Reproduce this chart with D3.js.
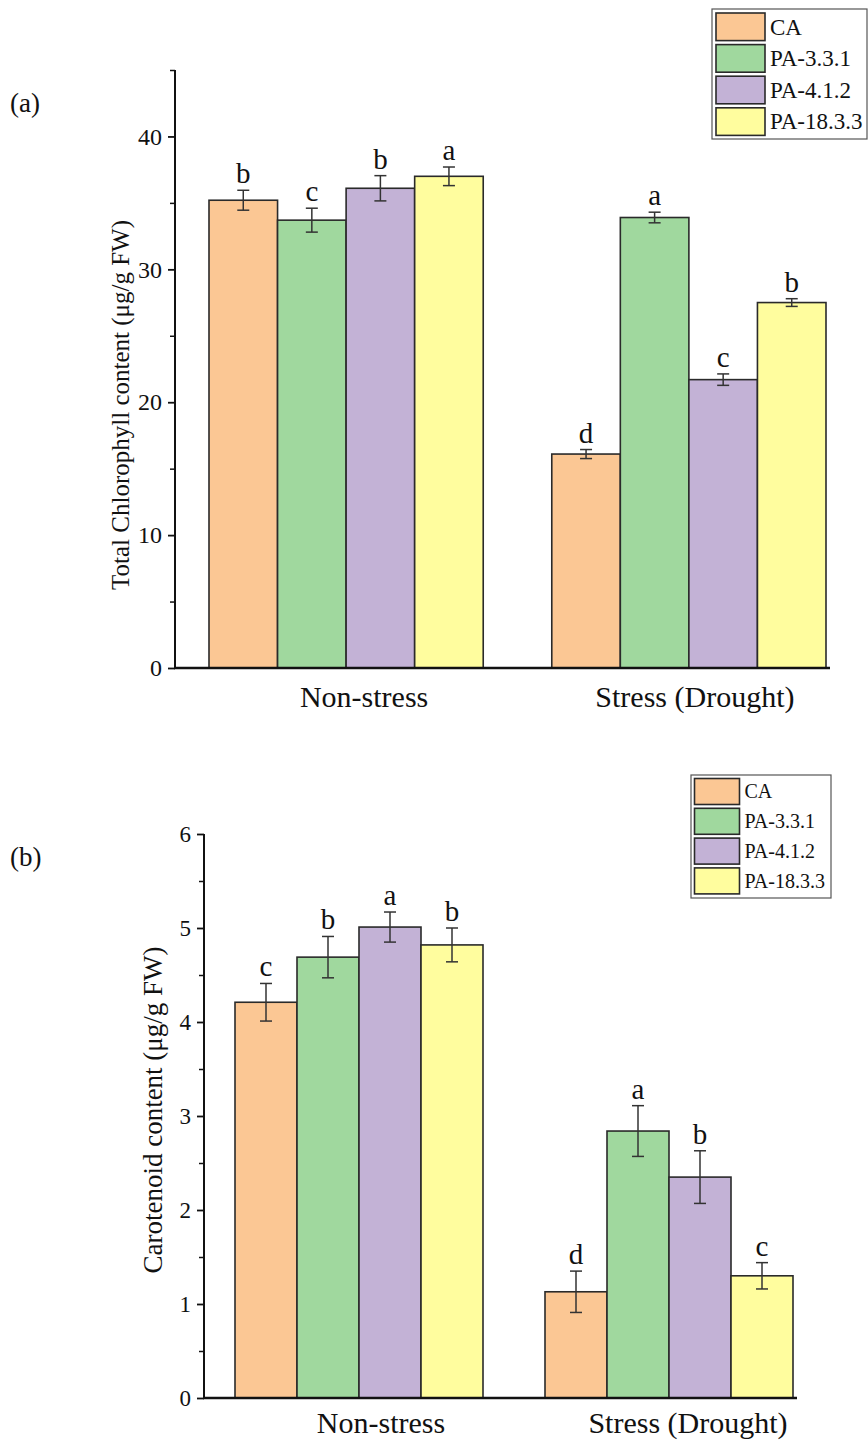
<!DOCTYPE html>
<html>
<head>
<meta charset="utf-8">
<script src="https://cdn.jsdelivr.net/npm/d3@7"></script>
<style>
  body { margin: 0; background: #fff; }
  svg text { font-family: "Liberation Serif", "Times New Roman", serif; fill: #111; }
</style>
</head>
<body>
<script>
// categories and series
var groups = ["Non-stress", "Stress (Drought)"];
var series = ["CA", "PA-3.3.1", "PA-4.1.2", "PA-18.3.3"];
var colors = ["#fbc794", "#a0d89e", "#c3b2d6", "#fffd9e"];

// (a) total chlorophyll, one array per series: [Non-stress, Stress]
var chlCA    = [35.2, 16.1];
var chlPA331 = [33.7, 33.9];
var chlPA412 = [36.1, 21.7];
var chlPA1833= [37.0, 27.5];
var chlErrCA    = [0.75, 0.34];
var chlErrPA331 = [0.90, 0.40];
var chlErrPA412 = [0.95, 0.43];
var chlErrPA1833= [0.70, 0.29];
var chlLetters  = [["b", "c", "b", "a"], ["d", "a", "c", "b"]];
var chlMajor = [0, 10, 20, 30, 40];
var chlMinor = [5, 15, 25, 35, 45];

// (b) carotenoid
var carCA    = [4.21, 1.13];
var carPA331 = [4.69, 2.84];
var carPA412 = [5.01, 2.35];
var carPA1833= [4.82, 1.30];
var carErrCA    = [0.20, 0.22];
var carErrPA331 = [0.22, 0.27];
var carErrPA412 = [0.16, 0.28];
var carErrPA1833= [0.18, 0.14];
var carLetters  = [["c", "b", "a", "b"], ["d", "a", "b", "c"]];
var carMajor = [0, 1, 2, 3, 4, 5, 6];
var carMinor = [0.5, 1.5, 2.5, 3.5, 4.5, 5.5];

var svg = d3.select("body").append("svg")
  .attr("width", 868)
  .attr("height", 1445);

function drawChart(c) {
  var g = svg.append("g");
  var y = d3.scaleLinear().domain(c.yDomain).range([c.bottom, c.top]);
  var x0 = d3.scaleBand().domain(groups).range([c.barLeft, c.barRight]).paddingInner(0.2);
  var x1 = d3.scaleBand().domain(series).range([0, x0.bandwidth()]);

  // rows: one object per bar
  var rows = [];
  groups.forEach(function(gr, gi) {
    series.forEach(function(s, si) {
      rows.push({group: gr, s: s, si: si, v: c.values[si][gi], e: c.errors[si][gi], letter: c.letters[gi][si]});
    });
  });

  g.selectAll("rect.bar")
    .data(rows)
    .enter()
    .append("rect")
    .attr("class", "bar")
    .attr("x", function(d) { return x0(d.group) + x1(d.s); })
    .attr("y", function(d) { return y(d.v); })
    .attr("width", x1.bandwidth())
    .attr("height", function(d) { return y(0) - y(d.v); })
    .attr("fill", function(d) { return colors[d.si]; })
    .attr("stroke", "#2a2a2a")
    .attr("stroke-width", 1.6);

  // error bars
  var eb = g.selectAll("g.err")
    .data(rows)
    .enter()
    .append("g")
    .attr("class", "err")
    .attr("stroke", "#333")
    .attr("stroke-width", 1.5);
  eb.append("line")
    .attr("x1", function(d) { return x0(d.group) + x1(d.s) + x1.bandwidth() / 2; })
    .attr("x2", function(d) { return x0(d.group) + x1(d.s) + x1.bandwidth() / 2; })
    .attr("y1", function(d) { return y(d.v + d.e); })
    .attr("y2", function(d) { return y(d.v - d.e); });
  [1, -1].forEach(function(sign) {
    eb.append("line")
      .attr("x1", function(d) { return x0(d.group) + x1(d.s) + x1.bandwidth() / 2 - 6; })
      .attr("x2", function(d) { return x0(d.group) + x1(d.s) + x1.bandwidth() / 2 + 6; })
      .attr("y1", function(d) { return y(d.v + sign * d.e); })
      .attr("y2", function(d) { return y(d.v + sign * d.e); });
  });

  // significance letters
  g.selectAll("text.letter")
    .data(rows)
    .enter()
    .append("text")
    .attr("class", "letter")
    .attr("x", function(d) { return x0(d.group) + x1(d.s) + x1.bandwidth() / 2; })
    .attr("y", function(d) { return y(d.v + d.e) - 7; })
    .attr("text-anchor", "middle")
    .attr("font-size", 29)
    .text(function(d) { return d.letter; });

  // y axis
  var yAxis = g.append("g")
    .attr("transform", "translate(" + c.left + ",0)")
    .call(d3.axisLeft(y).tickValues(c.major).tickSize(7).tickPadding(6).tickFormat(d3.format("d")));
  yAxis.select(".domain").attr("stroke", "#111").attr("stroke-width", 2)
    .attr("d", "M0," + c.top + "V" + c.bottom);
  yAxis.selectAll(".tick line").attr("stroke", "#111").attr("stroke-width", 1.8);
  yAxis.selectAll(".tick text").attr("font-size", c.tickFont).attr("font-family", null).attr("fill", "#111");
  var yMinor = g.append("g")
    .attr("transform", "translate(" + c.left + ",0)")
    .call(d3.axisLeft(y).tickValues(c.minor).tickSize(5).tickFormat(""));
  yMinor.select(".domain").remove();
  yMinor.selectAll(".tick line").attr("stroke", "#111").attr("stroke-width", 1.5);

  // x axis
  var xAxis = g.append("g")
    .attr("transform", "translate(0," + c.bottom + ")")
    .call(d3.axisBottom(x0).tickSize(0).tickPadding(c.catPad));
  xAxis.select(".domain").remove();
  xAxis.selectAll(".tick text")
    .attr("font-size", 30)
    .attr("font-family", null)
    .attr("fill", "#111")
    .attr("dx", function(d, i) { return c.catShift[i]; });
  g.append("line")
    .attr("x1", c.left - 1).attr("x2", c.right)
    .attr("y1", y(0)).attr("y2", y(0))
    .attr("stroke", "#111").attr("stroke-width", 2.6);

  // y label
  g.append("text")
    .attr("transform", "translate(" + c.yLabelX + "," + c.yLabelY + ") rotate(-90)")
    .attr("text-anchor", "middle")
    .attr("font-size", c.yLabelFont)
    .text(c.yLabel);

  // panel tag
  g.append("text")
    .attr("x", 10).attr("y", c.tagY)
    .attr("font-size", 27)
    .text(c.tag);

  // legend
  var L = c.legend;
  var lg = g.append("g").attr("transform", "translate(" + L.x + "," + L.y + ")");
  lg.append("rect")
    .attr("width", L.w).attr("height", L.h)
    .attr("fill", "#fff").attr("stroke", "#555").attr("stroke-width", 1.2);
  var item = lg.selectAll("g.item")
    .data(series)
    .enter()
    .append("g")
    .attr("class", "item")
    .attr("transform", function(d, i) { return "translate(" + L.pad + "," + (L.pad + i * L.step) + ")"; });
  item.append("rect")
    .attr("width", L.sw).attr("height", L.sh)
    .attr("fill", function(d, i) { return colors[i]; })
    .attr("stroke", "#2a2a2a").attr("stroke-width", 1.6);
  item.append("text")
    .attr("x", L.sw + 5)
    .attr("y", L.sh / 2 + L.font * 0.34)
    .attr("font-size", L.font)
    .text(function(d) { return d; });
}

drawChart({
  yDomain: [0, 45], top: 70, bottom: 668, left: 175, right: 830,
  barLeft: 209, barRight: 826,
  values: [chlCA, chlPA331, chlPA412, chlPA1833],
  errors: [chlErrCA, chlErrPA331, chlErrPA412, chlErrPA1833],
  letters: chlLetters, major: chlMajor, minor: chlMinor, tickFont: 24,
  catPad: 18, catShift: [18, 6],
  yLabel: "Total Chlorophyll content (\u03bcg/g FW)", yLabelX: 129, yLabelY: 405, yLabelFont: 25,
  tag: "(a)", tagY: 112,
  legend: {x: 712, y: 9, w: 155, h: 130, pad: 4, step: 31.6, sw: 49, sh: 27.6, font: 23}
});

drawChart({
  yDomain: [0, 6], top: 834, bottom: 1398, left: 204, right: 797,
  barLeft: 235, barRight: 793,
  values: [carCA, carPA331, carPA412, carPA1833],
  errors: [carErrCA, carErrPA331, carErrPA412, carErrPA1833],
  letters: carLetters, major: carMajor, minor: carMinor, tickFont: 23,
  catPad: 14, catShift: [22, 19],
  yLabel: "Carotenoid content (\u03bcg/g FW)", yLabelX: 162, yLabelY: 1110, yLabelFont: 27,
  tag: "(b)", tagY: 866,
  legend: {x: 691, y: 775, w: 140, h: 123, pad: 3.5, step: 29.8, sw: 45, sh: 26, font: 20}
});
</script>
</body>
</html>
